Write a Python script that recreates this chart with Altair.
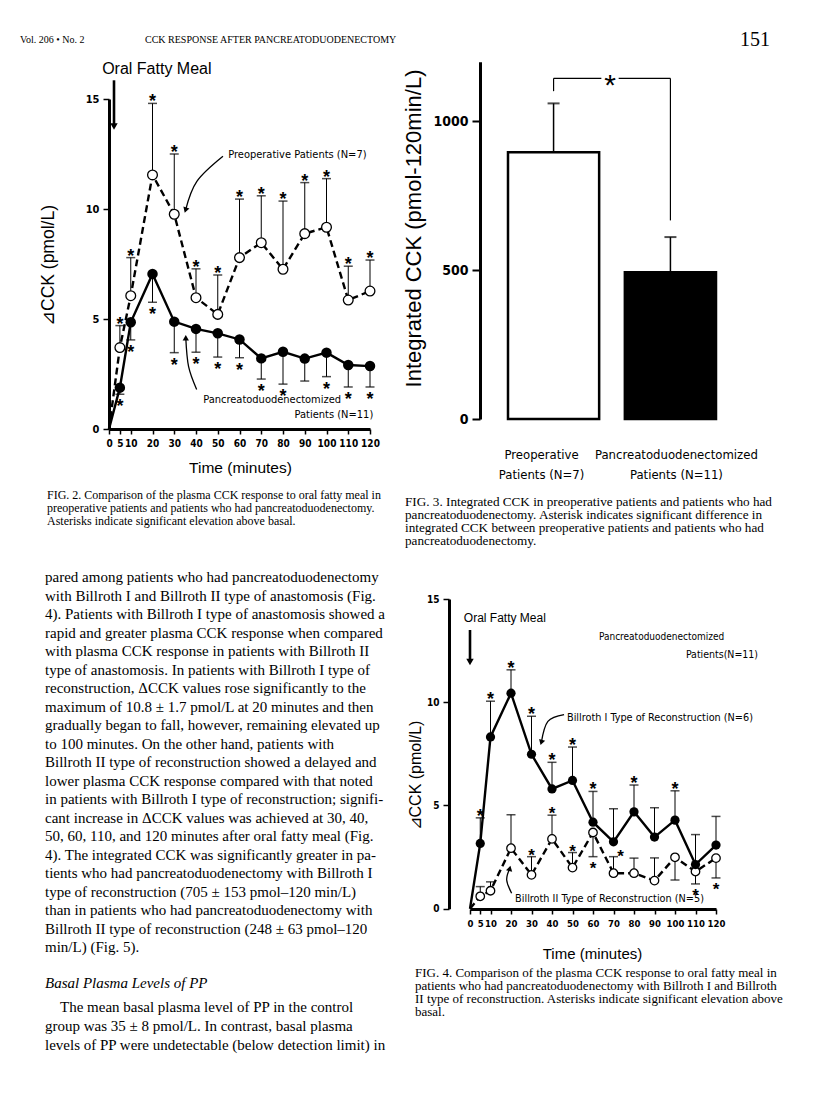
import altair as alt
import pandas as pd

# ---------------- data ----------------
times = [0, 5, 10, 20, 30, 40, 50, 60, 70, 80, 90, 100, 110, 120]
time_ticks = [0, 5, 10, 20, 30, 40, 50, 60, 70, 80, 90, 100, 110, 120]
cck_ticks = [0, 5, 10, 15]

# Fig. 2  (delta CCK, pmol/L)
pre_mean = [0.0, 3.70, 6.06, 11.55, 9.76, 5.97, 5.21, 7.79, 8.47, 7.26, 8.88, 9.17, 5.86, 6.27]
pre_err = [None, 4.70, 7.79, 14.80, 12.50, 7.28, 7.00, 10.45, 10.60, 10.36, 11.20, 11.38, 7.40, 7.68]
pre_star = [0, 1, 1, 1, 1, 1, 1, 1, 1, 1, 1, 1, 1, 1]
pdx_mean = [0.0, 1.88, 4.85, 7.05, 4.88, 4.55, 4.35, 4.07, 3.21, 3.51, 3.20, 3.47, 2.91, 2.86]
pdx_err = [None, 1.58, 4.05, 5.76, 3.47, 3.49, 3.27, 3.24, 2.27, 2.04, 2.18, 2.38, 1.91, 1.91]
pdx_star = [0, 1, 1, 1, 1, 1, 1, 1, 1, 1, 0, 1, 1, 1]

# Fig. 3  (integrated CCK, pmol-120min/L)
groups = ["Preoperative|Patients (N=7)", "Pancreatoduodenectomized|Patients  (N=11)"]
integ_mean = [896, 493]
integ_err = [1060, 611]
integ_ticks = [0, 500, 1000]
bracket_foot = [1101, 667]
bracket_top = [1144, 1144]

# Fig. 4  (delta CCK, pmol/L)
b1_mean = [0.0, 3.16, 8.32, 10.44, 7.48, 5.80, 6.21, 4.19, 3.24, 4.69, 3.47, 4.29, 2.14, 3.08]
b1_err = [None, 4.40, 10.05, 11.57, 9.32, 7.09, 7.83, 5.68, 4.84, 5.99, 4.89, 5.71, 3.59, 4.47]
b1_star = [0, 1, 1, 1, 1, 1, 1, 1, 0, 1, 0, 1, 0, 0]
b2_mean = [0.0, 0.60, 0.87, 2.93, 1.64, 3.38, 1.99, 3.69, 1.72, 1.72, 1.36, 2.49, 1.80, 2.45]
b2_err = [None, 1.07, 1.30, 4.55, 2.52, 4.53, 2.72, 2.52, 2.52, 2.45, 2.46, 1.39, 1.20, 1.49]
b2_star = [0, 0, 0, 0, 1, 1, 1, 1, 0, 0, 0, 0, 1, 1]
b2_extra_star_t = [73.5]
b2_extra_star_v = [2.45]

# annotation anchors (data coordinates)
f2_meal_t, f2_meal_top, f2_meal_bot = [2.3], [15.85], [13.75]
f2_meal_label_t, f2_meal_label_v = [22.0], [16.35]
f2_left_t = [54.8, 43.3]
f2_left_v = [12.45, 1.32]
f2_left_txt = ["Preoperative Patients (N=7)", "Pancreatoduodenectomized"]
f2_right_t, f2_right_v, f2_right_txt = [121.5], [0.62], ["Patients (N=11)"]
f2_arrow_pre_t, f2_arrow_pre_v = [52.4, 40.4, 35.2], [12.40, 11.26, 9.95]
f2_arrow_pd_t, f2_arrow_pd_v = [40.3, 36.6, 35.3], [1.80, 2.83, 4.15]

f4_meal_t, f4_meal_top, f4_meal_bot = [0.0], [13.5], [11.95]
f4_meal_label_t, f4_meal_label_v = [17.0], [14.06]
f4_left_t = [62.9, 47.3, 22.0]
f4_left_v = [13.14, 9.26, 0.47]
f4_left_txt = ["Pancreatoduodenectomized", "Billroth I  Type of Reconstruction (N=6)",
               "Billroth II  Type of Reconstruction (N=5)"]
f4_right_t, f4_right_v, f4_right_txt = [140.5], [12.27], ["Patients(N=11)"]
f4_arrow_b1_t, f4_arrow_b1_v = [45.9, 38.0, 34.8], [9.40, 9.07, 8.05]
f4_arrow_b2_t, f4_arrow_b2_v = [20.3, 17.9, 19.4], [0.75, 1.39, 1.95]

header_left = "Vol. 206 \u2022 No. 2"
header_mid = "CCK RESPONSE AFTER PANCREATODUODENECTOMY"
header_page = "151"

cap2 = ["FIG. 2. Comparison of the plasma CCK response to oral fatty meal in",
        "preoperative patients and patients who had pancreatoduodenectomy.",
        "Asterisks indicate significant elevation above basal."]
cap3 = ["FIG. 3. Integrated CCK in preoperative patients and patients who had",
        "pancreatoduodenectomy. Asterisk indicates significant difference in",
        "integrated CCK between preoperative patients and patients who had",
        "pancreatoduodenectomy."]
cap4 = ["FIG. 4. Comparison of the plasma CCK response to oral fatty meal in",
        "patients who had pancreatoduodenectomy with Billroth I and Billroth",
        "II type of reconstruction. Asterisks indicate significant elevation above",
        "basal."]
body1 = [
    "pared among patients who had pancreatoduodenectomy",
    "with Billroth I and Billroth II type of anastomosis (Fig.",
    "4). Patients with Billroth I type of anastomosis showed a",
    "rapid and greater plasma CCK response when compared",
    "with plasma CCK response in patients with Billroth II",
    "type of anastomosis. In patients with Billroth I type of",
    "reconstruction, \u0394CCK values rose significantly to the",
    "maximum of 10.8 \u00b1 1.7 pmol/L at 20 minutes and then",
    "gradually began to fall, however, remaining elevated up",
    "to 100 minutes. On the other hand, patients with",
    "Billroth II type of reconstruction showed a delayed and",
    "lower plasma CCK response compared with that noted",
    "in patients with Billroth I type of reconstruction; signifi-",
    "cant increase in \u0394CCK values was achieved at 30, 40,",
    "50, 60, 110, and 120 minutes after oral fatty meal (Fig.",
    "4). The integrated CCK was significantly greater in pa-",
    "tients who had pancreatoduodenectomy with Billroth I",
    "type of reconstruction (705 \u00b1 153 pmol\u2013120 min/L)",
    "than in patients who had pancreatoduodenectomy with",
    "Billroth II type of reconstruction (248 \u00b1 63 pmol\u2013120",
    "min/L) (Fig. 5).",
]
heading = ["Basal Plasma Levels of PP"]
body2_first = ["The mean basal plasma level of PP in the control"]
body2_rest = ["group was 35 \u00b1 8 pmol/L. In contrast, basal plasma",
              "levels of PP were undetectable (below detection limit) in"]

# ---------------- layout ----------------
W, H = 800, 1103
M = 8
SERIF = "Liberation Serif, Times New Roman, serif"
SANS = "Liberation Sans, Arial, Helvetica, sans-serif"
COND = "Liberation Sans Narrow, DejaVu Sans Condensed, Roboto, sans-serif"


def px(v):
    return v - M


def series_df(mean, err, star):
    return pd.DataFrame({"t": times, "v": mean, "e": err, "s": star})


def line_axes(x0, x1, xaxis_y, yaxis_x, y0, y15, title_x, title_y, ytitle_x, ytitle_y,
              xlab_size, ylab_size, xtitle_size, ytitle_size):
    ts = alt.Scale(domain=[0, 120], range=[px(x0), px(x1)], nice=False, zero=False)
    vs = alt.Scale(domain=[0, 15], range=[px(y0), px(y15)], nice=False, zero=False)
    xa = alt.Axis(orient="bottom", offset=px(xaxis_y) - H, values=time_ticks, format="d", grid=False,
                  domainColor="black", domainWidth=3, tickColor="black", tickWidth=1.5, tickSize=5,
                  labelFont=COND, labelFontSize=xlab_size, labelFontWeight="bold", labelColor="black",
                  labelPadding=4, labelOverlap=False, labelFlush=False,
                  title="Time (minutes)", titleFont=SANS, titleFontSize=xtitle_size, titleFontWeight="normal",
                  titleColor="black", titleX=px(title_x), titleY=title_y, titleAlign="center",
                  titleBaseline="middle")
    ya = alt.Axis(orient="left", offset=-px(yaxis_x), values=cck_ticks, format="d", grid=False,
                  domainColor="black", domainWidth=3, tickColor="black", tickWidth=1.5, tickSize=6,
                  labelFont=COND, labelFontSize=ylab_size, labelFontWeight="bold", labelColor="black",
                  labelPadding=4, title="\u22bfCCK (pmol/L)", titleFont=SANS, titleFontSize=ytitle_size,
                  titleFontWeight="normal", titleColor="black", titleAngle=270,
                  titleX=px(ytitle_x) - px(yaxis_x), titleY=px(ytitle_y), titleAlign="center",
                  titleBaseline="middle")
    return ts, vs, xa, ya


def xy(ts, vs, xa, ya, yf="v:Q"):
    return dict(x=alt.X("t:Q", scale=ts, axis=xa), y=alt.Y(yf, scale=vs, axis=ya))


def series_layers(df, ts, vs, xa, ya, dashed, err_up, size, with_stars=True):
    line_kw = dict(color="black", strokeWidth=2.4)
    if dashed:
        line_kw["strokeDash"] = [7, 4]
    line = alt.Chart(df).mark_line(**line_kw).encode(**xy(ts, vs, xa, ya))
    d = df.dropna()
    rule = alt.Chart(d).mark_rule(color="black", strokeWidth=1).encode(
        **xy(ts, vs, xa, ya), y2=alt.Y2("e:Q"))
    cap = alt.Chart(d).mark_tick(orient="horizontal", size=9, thickness=1.5, color="black").encode(
        **xy(ts, vs, xa, ya, "e:Q"))
    if dashed:
        pts = alt.Chart(d).mark_point(shape="circle", filled=True, fill="white", stroke="black",
                                      strokeWidth=1.3, size=size, opacity=1).encode(**xy(ts, vs, xa, ya))
    else:
        pts = alt.Chart(d).mark_point(shape="circle", filled=True, color="black", size=size,
                                      opacity=1).encode(**xy(ts, vs, xa, ya))
    layers = [line, rule, cap, pts]
    if with_stars:
        ds = d[d["s"] == 1]
        star = alt.Chart(ds).mark_text(text="*", font=SANS, fontSize=18, fontWeight="bold",
                                       baseline="alphabetic", dy=4 if err_up else 18,
                                       color="black").encode(**xy(ts, vs, xa, ya, "e:Q"))
        layers.append(star)
    return layers


def annotation_layers(ts, vs, xa, ya, meal_t, meal_top, meal_bot, meal_lab_t, meal_lab_v, meal_size,
                      labels, arrows):
    out = []
    dm = pd.DataFrame({"t": meal_t, "v": meal_top, "b": meal_bot})
    out.append(alt.Chart(dm).mark_rule(color="black", strokeWidth=2.6).encode(
        **xy(ts, vs, xa, ya), y2=alt.Y2("b:Q")))
    out.append(alt.Chart(dm).mark_point(shape="triangle-down", filled=True, color="black", size=55,
                                        opacity=1).encode(**xy(ts, vs, xa, ya, "b:Q")))
    dl = pd.DataFrame({"t": meal_lab_t, "v": meal_lab_v, "txt": ["Oral Fatty Meal"]})
    out.append(alt.Chart(dl).mark_text(align="center", baseline="middle", font=SANS, fontSize=meal_size,
                                       color="black").encode(**xy(ts, vs, xa, ya), text="txt:N"))
    for lt, lv, txt, align, size in labels:
        d = pd.DataFrame({"t": [lt], "v": [lv], "txt": [txt]})
        out.append(alt.Chart(d).mark_text(align=align, baseline="middle", font=COND, fontSize=size,
                                          color="black").encode(**xy(ts, vs, xa, ya), text="txt:N"))
    for at, av, shape, ang in arrows:
        da = pd.DataFrame({"t": at, "v": av, "k": list(range(len(at)))})
        out.append(alt.Chart(da).mark_line(color="black", strokeWidth=1.3, interpolate="cardinal").encode(
            **xy(ts, vs, xa, ya), order=alt.Order("k:Q")))
        dh = da.tail(1)
        out.append(alt.Chart(dh).mark_point(shape=shape, filled=True, color="black", size=40, angle=ang,
                                            opacity=1).encode(**xy(ts, vs, xa, ya)))
    return out


# ---- Fig. 2 ----
ts2, vs2, xa2, ya2 = line_axes(109, 370, 429, 109, 429, 99, 240, 38, 48, 265, 10, 11, 15.5, 17.5)
fig2_layers = []
fig2_layers += series_layers(series_df(pdx_mean, pdx_err, pdx_star), ts2, vs2, xa2, ya2, False, False, 110)
fig2_layers += series_layers(series_df(pre_mean, pre_err, pre_star), ts2, vs2, xa2, ya2, True, True, 95)
f2_labels = [(f2_left_t[0], f2_left_v[0], f2_left_txt[0], "left", 11),
             (f2_left_t[1], f2_left_v[1], f2_left_txt[1], "left", 11),
             (f2_right_t[0], f2_right_v[0], f2_right_txt[0], "right", 11)]
fig2_layers += annotation_layers(ts2, vs2, xa2, ya2, f2_meal_t, f2_meal_top, f2_meal_bot,
                                 f2_meal_label_t, f2_meal_label_v, 16, f2_labels,
                                 [(f2_arrow_pre_t, f2_arrow_pre_v, "triangle-down", 18),
                                  (f2_arrow_pd_t, f2_arrow_pd_v, "triangle-up", 0)])
fig2 = alt.layer(*fig2_layers)

# ---- Fig. 4 ----
ts4, vs4, xa4, ya4 = line_axes(470, 716, 909, 449, 908.7, 599, 592, 44, 415, 775, 9.5, 10, 15, 16)
b2_df = series_df(b2_mean, b2_err, b2_star)
b2_up = [1 if (e is not None and e >= m) else 0 for m, e in zip(b2_mean, b2_err)]
b2_df["up"] = b2_up
fig4_layers = []
fig4_layers += series_layers(b2_df, ts4, vs4, xa4, ya4, True, True, 72, with_stars=False)
d2s = b2_df.dropna()
d2s = d2s[d2s["s"] == 1]
fig4_layers.append(alt.Chart(d2s[d2s["up"] == 1]).mark_text(
    text="*", font=SANS, fontSize=17, fontWeight="bold", baseline="alphabetic", dy=4, color="black").encode(
    **xy(ts4, vs4, xa4, ya4, "e:Q")))
fig4_layers.append(alt.Chart(d2s[d2s["up"] == 0]).mark_text(
    text="*", font=SANS, fontSize=17, fontWeight="bold", baseline="alphabetic", dy=17, color="black").encode(
    **xy(ts4, vs4, xa4, ya4, "e:Q")))
dx = pd.DataFrame({"t": b2_extra_star_t, "v": b2_extra_star_v})
fig4_layers.append(alt.Chart(dx).mark_text(
    text="*", font=SANS, fontSize=17, fontWeight="bold", baseline="alphabetic", dy=4, color="black").encode(
    **xy(ts4, vs4, xa4, ya4)))
fig4_layers += series_layers(series_df(b1_mean, b1_err, b1_star), ts4, vs4, xa4, ya4, False, True, 85)
f4_labels = [(f4_left_t[0], f4_left_v[0], f4_left_txt[0], "left", 10),
             (f4_left_t[1], f4_left_v[1], f4_left_txt[1], "left", 10.8),
             (f4_left_t[2], f4_left_v[2], f4_left_txt[2], "left", 10.8),
             (f4_right_t[0], f4_right_v[0], f4_right_txt[0], "right", 10.5)]
fig4_layers += annotation_layers(ts4, vs4, xa4, ya4, f4_meal_t, f4_meal_top, f4_meal_bot,
                                 f4_meal_label_t, f4_meal_label_v, 12, f4_labels,
                                 [(f4_arrow_b1_t, f4_arrow_b1_v, "triangle-down", 17),
                                  (f4_arrow_b2_t, f4_arrow_b2_v, "triangle-up", 14)])
fig4 = alt.layer(*fig4_layers)

# ---- Fig. 3 ----
gs3 = alt.Scale(domain=groups, range=[px(508), px(716)], paddingInner=0.22, paddingOuter=0)
vs3 = alt.Scale(domain=[0, 1200], range=[px(419), px(61.7)], nice=False, zero=True)
ya3 = alt.Axis(orient="left", offset=-px(480), values=integ_ticks, format="d", grid=False,
               domainColor="black", domainWidth=3, tickColor="black", tickWidth=2, tickSize=8,
               labelFont=COND, labelFontSize=14, labelFontWeight="bold", labelColor="black", labelPadding=4,
               title="Integrated CCK (pmol-120min/L)", titleFont=SANS, titleFontSize=22,
               titleFontWeight="normal", titleColor="black", titleAngle=270,
               titleX=px(413) - px(480), titleY=px(228), titleAlign="center", titleBaseline="middle")


def gxy(yf="v:Q"):
    return dict(x=alt.X("g:N", scale=gs3, axis=None), y=alt.Y(yf, scale=vs3, axis=ya3))


df3 = pd.DataFrame({"g": groups, "v": integ_mean, "e": integ_err, "b": bracket_foot, "top": bracket_top})
bars = alt.Chart(df3).mark_bar(stroke="black", strokeWidth=2.5).encode(
    **gxy(), fill=alt.condition(alt.datum.g == groups[0], alt.value("white"), alt.value("black")))
err3 = alt.Chart(df3).mark_rule(color="black", strokeWidth=1.5).encode(**gxy(), y2=alt.Y2("e:Q"))
cap3m = alt.Chart(df3).mark_tick(orient="horizontal", size=12, thickness=2, color="black").encode(**gxy("e:Q"))
br_v = alt.Chart(df3).mark_rule(color="black", strokeWidth=1.2).encode(**gxy("b:Q"), y2=alt.Y2("top:Q"))
br_h = alt.Chart(df3).mark_line(color="black", strokeWidth=1.2).encode(**gxy("top:Q"))
star_bg = alt.Chart(df3.head(1)).mark_point(shape="square", filled=True, color="white", size=300,
                                             opacity=1).encode(
    x=alt.value(px(610)), y=alt.Y("top:Q", scale=vs3, axis=ya3))
star3 = alt.Chart(df3.head(1)).mark_text(text="*", font=SANS, fontSize=30, baseline="alphabetic", dy=17,
                                         color="black").encode(
    x=alt.value(px(610)), y=alt.Y("top:Q", scale=vs3, axis=ya3))
cat_labels = []
for k, shift in ((0, -12), (1, 6)):
    cat_labels.append(alt.Chart(df3.iloc[[k]]).mark_text(
        font=COND, fontSize=13, lineBreak="|", lineHeight=20, align="center", baseline="top", dx=shift,
        color="black").encode(x=alt.X("g:N", scale=gs3, axis=None), y=alt.value(px(449)), text="g:N"))
fig3 = alt.layer(bars, err3, cap3m, br_v, br_h, star_bg, star3, *cat_labels)


# ---- text blocks ----
def text_block(lines, x, y_first, lh, size, font=SERIF, style="normal", align="left"):
    n = len(lines)
    df = pd.DataFrame({"i": list(range(n)), "line": lines})
    span = max(n - 1, 1)
    return alt.Chart(df).mark_text(align=align, baseline="middle", font=font, fontSize=size,
                                   fontStyle=style, color="black").encode(
        x=alt.value(px(x)),
        y=alt.Y("i:Q", scale=alt.Scale(domain=[0, span], range=[px(y_first), px(y_first) + lh * span]),
                axis=None),
        text="line:N")


texts = [
    text_block([header_left], 20, 40, 10, 10),
    text_block([header_mid], 145, 40, 10, 10),
    text_block([header_page], 740, 40, 10, 20),
    text_block(cap2, 47, 495, 12.8, 12),
    text_block(cap3, 405, 502, 13, 13.2),
    text_block(cap4, 415, 973, 13, 13),
    text_block(body1, 45, 577, 18.5, 15),
    text_block(heading, 45, 983, 18.5, 15, style="italic"),
    text_block(body2_first, 60, 1007, 18.5, 15),
    text_block(body2_rest, 45, 1026, 18.5, 15),
]

chart = alt.layer(fig2, fig3, fig4, *texts).resolve_scale(
    x="independent", y="independent"
).properties(
    width=W, height=H, autosize=alt.AutoSizeParams(type="none"), padding=0, background="white"
).configure_view(strokeWidth=0)

chart.save("out.html", embed_options={"renderer": "svg", "actions": False})
